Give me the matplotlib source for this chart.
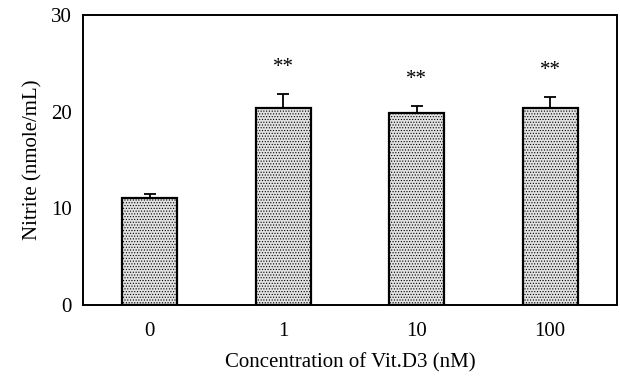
import numpy as np
import matplotlib
matplotlib.use('Agg')
import matplotlib.pyplot as plt

# Data.
conc_labels = ['0', '1', '10', '100']
nitrite = [11.1, 20.35, 19.9, 20.4]
nitrite_err = [0.4, 1.45, 0.7, 1.1]
signif = ['', '**', '**', '**']

plt.rcParams['font.family'] = ['Liberation Serif', 'DejaVu Serif']
plt.rcParams['hatch.color'] = '#9a9a9a'
plt.rcParams['hatch.linewidth'] = 0.5

fig = plt.figure(figsize=(6.2, 3.81), dpi=100)
ax = fig.add_axes([0.134, 0.199, 0.861, 0.762])

x = np.arange(len(conc_labels))
ax.bar(x, nitrite, width=0.41, color='#e2e2e2', edgecolor='black',
       linewidth=1.6, hatch='......', zorder=2)
ax.errorbar(x, nitrite, yerr=[np.zeros(len(x)), nitrite_err], fmt='none',
            ecolor='black', elinewidth=1.3, capsize=4, capthick=1.3, zorder=3)

for xi, v, e, s in zip(x, nitrite, nitrite_err, signif):
    if s:
        ax.annotate(s, (xi, v + e), xytext=(0, 19), textcoords='offset points',
                    ha='center', va='center', fontsize=15)

ax.set_xlim(-0.5, 3.5)
ax.set_ylim(0, 30)
ax.set_yticks([0, 10, 20, 30])
ax.set_xticks(x)
ax.set_xticklabels(conc_labels)
ax.tick_params(axis='both', length=0, labelsize=15)
ax.tick_params(axis='x', pad=12)
ax.tick_params(axis='y', pad=8)
for sp in ax.spines.values():
    sp.set_linewidth(1.4)

ax.set_ylabel('Nitrite (nmole/mL)', fontsize=15, labelpad=6)
ax.set_xlabel('Concentration of Vit.D3 (nM)', fontsize=15, labelpad=9)

fig.savefig('out.png', dpi=100)
